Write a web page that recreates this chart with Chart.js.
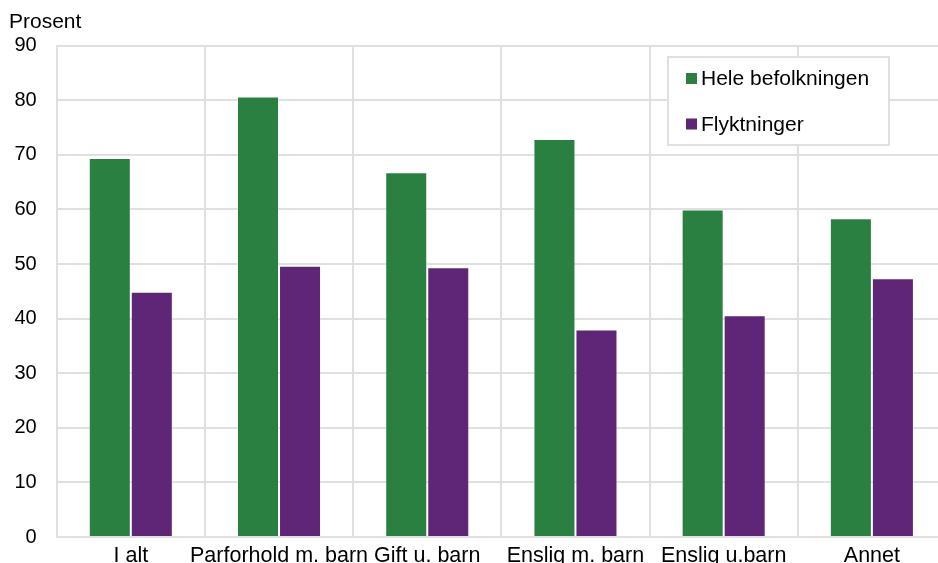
<!DOCTYPE html>
<html>
<head>
<meta charset="utf-8">
<script src="https://cdn.jsdelivr.net/npm/chart.js@4/dist/chart.umd.min.js"></script>
<style>
html,body{margin:0;padding:0;background:#fff;overflow:hidden;width:938px;height:563px;}
#wrap{position:absolute;left:0;top:0;width:950px;height:585px;}
</style>
</head>
<body>
<div id="wrap"><canvas id="c" width="950" height="585"></canvas></div>
<script>
const categories = ["I alt", "Parforhold m. barn", "Gift u. barn", "Enslig m. barn", "Enslig u.barn", "Annet"];
const heleBefolkningen = [69.4, 80.7, 66.8, 72.9, 60.0, 58.4];
const flyktninger = [44.9, 49.7, 49.4, 38.0, 40.6, 47.4];
const seriesNames = ["Hele befolkningen", "Flyktninger"];
const yTicks = [0, 10, 20, 30, 40, 50, 60, 70, 80, 90];
const unitLabel = "Prosent";

const FONT = "'Liberation Sans', Arial, sans-serif";
const GRID = "#e0e0e0";

const overlay = {
  id: 'overlay',
  afterDraw(chart) {
    const ctx = chart.ctx;
    ctx.save();
    ctx.fillStyle = "#000";
    ctx.font = "21px " + FONT;
    ctx.textBaseline = "middle";
    ctx.textAlign = "left";
    ctx.fillText(unitLabel, 9, 22);
    const bx = 668, by = 57, bw = 221, bh = 88;
    ctx.fillStyle = "#fff";
    ctx.fillRect(bx, by, bw, bh);
    ctx.strokeStyle = GRID;
    ctx.lineWidth = 2;
    ctx.strokeRect(bx, by, bw, bh);
    const ys = [78.5, 124];
    chart.data.datasets.forEach((ds, i) => {
      ctx.fillStyle = ds.backgroundColor;
      ctx.fillRect(686, ys[i] - 5.5, 11, 11);
      ctx.fillStyle = "#000";
      ctx.font = "21px " + FONT;
      ctx.textBaseline = "middle";
      ctx.fillText(ds.label, 701, ys[i] + 1);
    });
    ctx.restore();
  }
};

new Chart(document.getElementById('c'), {
  type: 'bar',
  data: {
    labels: categories,
    datasets: [
      { label: seriesNames[0], data: heleBefolkningen, backgroundColor: "#298040", borderColor: "rgba(255,255,255,0.3)", borderWidth: 1 },
      { label: seriesNames[1], data: flyktninger, backgroundColor: "#5f2576", borderColor: "rgba(255,255,255,0.3)", borderWidth: 1 }
    ]
  },
  options: {
    responsive: false,
    animation: false,
    devicePixelRatio: 1,
    categoryPercentage: 0.567,
    barPercentage: 1,
    layout: { padding: { left: 0, right: 4, top: 45.6, bottom: 0 } },
    plugins: { legend: { display: false }, tooltip: { enabled: false }, title: { display: false } },
    scales: {
      x: {
        offset: true,
        grid: { color: GRID, lineWidth: 2, drawTicks: false, offset: true },
        border: { color: GRID, width: 2 },
        ticks: { color: "#000", font: { family: FONT, size: 21.5 }, padding: 6, maxRotation: 0, autoSkip: false },
        afterFit(s) { s.height = 48; }
      },
      y: {
        min: 0, max: 90,
        afterBuildTicks(s) { s.ticks = yTicks.map(v => ({ value: v })); },
        grid: { color: GRID, lineWidth: 2, drawTicks: false },
        border: { color: GRID, width: 2 },
        ticks: { color: "#000", font: { family: FONT, size: 20 }, padding: 20 },
        afterFit(s) { s.width = 56.7; }
      }
    }
  },
  plugins: [overlay]
});
</script>
</body>
</html>
